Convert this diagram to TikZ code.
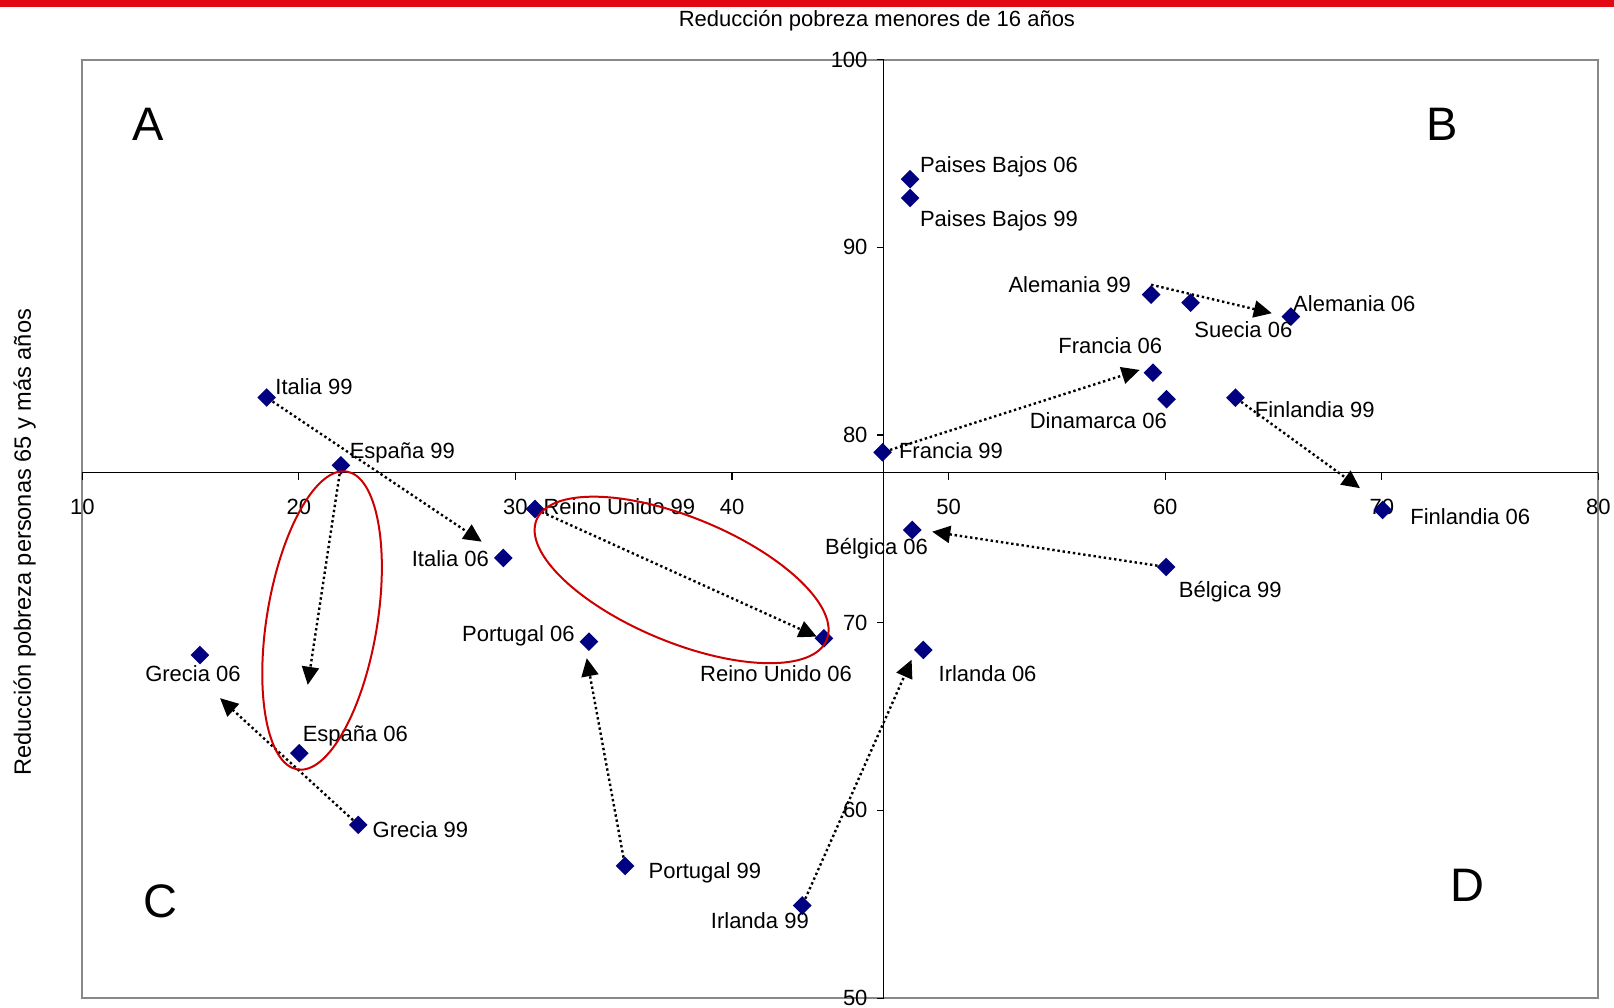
\documentclass[tikz,border=0pt]{standalone}
\usepackage{fontspec}
\setmainfont{Liberation Sans}
\usetikzlibrary{arrows.meta,shapes.geometric}
\definecolor{rojobarra}{RGB}{227,6,19}
\definecolor{rojoelipse}{RGB}{204,0,0}
\definecolor{azulpunto}{RGB}{0,0,128}
\definecolor{grismarco}{RGB}{136,136,136}
\tikzset{
  punto/.style={diamond,fill=azulpunto,inner sep=0pt,minimum size=9.5pt},
  etiqueta/.style={font=\fontsize{11}{13}\selectfont,inner sep=0pt},
  letra/.style={font=\fontsize{23.5}{28}\selectfont,inner sep=0pt},
  flecha/.style={line width=1.2pt,dash pattern=on 1.2pt off 1.4pt,-{Triangle[length=9pt,width=8.5pt]}},
  elipse/.style={rojoelipse,line width=1pt}
}
\begin{document}
\begin{tikzpicture}[x=10.83pt,y=9.385pt]
    \useasboundingbox (6.20,49.48) rectangle (80.72,103.18);
    \fill[rojobarra] (6.20,102.81) rectangle (80.72,103.18);
    \draw[grismarco,line width=1pt] (10,50) rectangle (80,100);
    % ejes
    \draw[line width=0.6pt] (10,78)--(80,78);
    \draw[line width=0.6pt] (47,50)--(47,100);
    \foreach \x in {10,20,...,80}{
      \draw[line width=0.6pt] (\x,78)--++(0pt,-3.5pt);
      \node[etiqueta,anchor=base] at (\x,75.74) {\x};
    }
    \foreach \y in {50,60,...,100}{
      \draw[line width=0.6pt] (47,\y)--++(-3.5pt,0pt);
      \node[etiqueta,anchor=east] at (46.27,\y) {\y};
    }
    \node[etiqueta,anchor=base] (titulo) at (46.69,101.79) {Reducción pobreza menores de 16 años};
    \node[etiqueta,font=\fontsize{11.8}{14}\selectfont,anchor=base,rotate=90] (ytitulo) at (7.62,74.28) {Reducción pobreza personas 65 y más años};
    \node[letra] (cA) at (13.02,96.57) {A};
    \node[letra] (cB) at (72.77,96.57) {B};
    \node[letra] (cC) at (13.62,55.13) {C};
    \node[letra] (cD) at (73.97,56.03) {D};
    % puntos
    \node[punto] (it99) at (18.51,82.00) {};
    \node[punto] (es99) at (21.94,78.39) {};
    \node[punto] (it06) at (29.44,73.45) {};
    \node[punto] (pt06) at (33.39,68.99) {};
    \node[punto] (es06) at (20.02,63.05) {};
    \node[punto] (ru99) at (30.90,76.06) {};
    \node[punto] (ru06) at (44.24,69.17) {};
    \node[punto] (pb06) at (48.22,93.63) {};
    \node[punto] (pb99) at (48.22,92.63) {};
    \node[punto] (al99) at (59.35,87.48) {};
    \node[punto] (se06) at (61.17,87.05) {};
    \node[punto] (al06) at (65.80,86.31) {};
    \node[punto] (fr06) at (59.43,83.32) {};
    \node[punto] (dk06) at (60.06,81.91) {};
    \node[punto] (fi99) at (63.24,81.99) {};
    \node[punto] (fr99) at (46.95,79.08) {};
    \node[punto] (fi06) at (70.04,76.01) {};
    \node[punto] (be06) at (48.32,74.94) {};
    \node[punto] (be99) at (60.04,72.97) {};
    \node[punto] (ie06) at (48.83,68.55) {};
    \node[punto] (pt99) at (35.06,57.04) {};
    \node[punto] (ie99) at (43.24,54.93) {};
    \node[punto] (gr06) at (15.43,68.28) {};
    \node[punto] (gr99) at (22.74,59.23) {};
    % etiquetas
    \node[etiqueta,anchor=base west] (it99l) at (18.90,82.14) {Italia 99};
    \node[etiqueta,anchor=base west] (es99l) at (22.33,78.73) {España 99};
    \node[etiqueta,anchor=base east] (it06l) at (28.79,72.99) {Italia 06};
    \node[etiqueta,anchor=base east] (pt06l) at (32.75,69.00) {Portugal 06};
    \node[etiqueta,anchor=base west] (es06l) at (20.16,63.68) {España 06};
    \node[etiqueta,anchor=base west] (ru99l) at (31.28,75.74) {Reino Unido 99};
    \node[etiqueta,anchor=base east] (ru06l) at (45.55,66.87) {Reino Unido 06};
    \node[etiqueta,anchor=base west] (pb06l) at (48.66,93.99) {Paises Bajos 06};
    \node[etiqueta,anchor=base west] (pb99l) at (48.66,91.11) {Paises Bajos 99};
    \node[etiqueta,anchor=base east] (al99l) at (58.43,87.60) {Alemania 99};
    \node[etiqueta,anchor=base west] (se06l) at (61.33,85.20) {Suecia 06};
    \node[etiqueta,anchor=base west] (al06l) at (65.89,86.58) {Alemania 06};
    \node[etiqueta,anchor=base east] (fr06l) at (59.88,84.37) {Francia 06};
    \node[etiqueta,anchor=base east] (dk06l) at (60.09,80.35) {Dinamarca 06};
    \node[etiqueta,anchor=base west] (fi99l) at (64.12,80.94) {Finlandia 99};
    \node[etiqueta,anchor=base west] (fr99l) at (47.69,78.73) {Francia 99};
    \node[etiqueta,anchor=base west] (fi06l) at (71.30,75.26) {Finlandia 06};
    \node[etiqueta,anchor=base east] (be06l) at (49.06,73.61) {Bélgica 06};
    \node[etiqueta,anchor=base west] (be99l) at (60.61,71.32) {Bélgica 99};
    \node[etiqueta,anchor=base west] (ie06l) at (49.52,66.87) {Irlanda 06};
    \node[etiqueta,anchor=base west] (pt99l) at (36.13,56.35) {Portugal 99};
    \node[etiqueta,anchor=base east] (ie99l) at (43.56,53.69) {Irlanda 99};
    \node[etiqueta,anchor=base west] (gr06l) at (12.89,66.86) {Grecia 06};
    \node[etiqueta,anchor=base west] (gr99l) at (23.39,58.56) {Grecia 99};
    % flechas 99 -> 06
    \coordinate (itf) at (28.44,74.32);
    \coordinate (esf) at (20.41,66.69);
    \coordinate (ptf) at (33.29,68.11);
    \coordinate (grf) at (16.36,65.98);
    \coordinate (ruf) at (43.91,69.26);
    \coordinate (ief) at (48.29,68.03);
    \coordinate (bef) at (49.24,74.85);
    \coordinate (frf) at (58.82,83.47);
    \coordinate (alf) at (64.92,86.49);
    \coordinate (fif) at (68.99,77.17);
    \draw[flecha] (it99)--(itf);
    \draw[flecha] (es99)--(esf);
    \draw[flecha] (pt99)--(ptf);
    \draw[flecha] (gr99)--(grf);
    \draw[flecha] (ru99)--(ruf);
    \draw[flecha] (ie99)--(ief);
    \draw[flecha] (be99)--(bef);
    \draw[flecha] (fr99)--(frf);
    \draw[flecha] (al99.north)--(alf);
    \draw[flecha] (fi99)--(fif);
    % elipses
    \draw[elipse] (21.07,70.12) ellipse [x radius=27.6pt,y radius=75.5pt,rotate=-9.4];
    \draw[elipse] (37.67,72.28) ellipse [x radius=78.5pt,y radius=31.2pt,rotate=-22.5];
\end{tikzpicture}
\end{document}
